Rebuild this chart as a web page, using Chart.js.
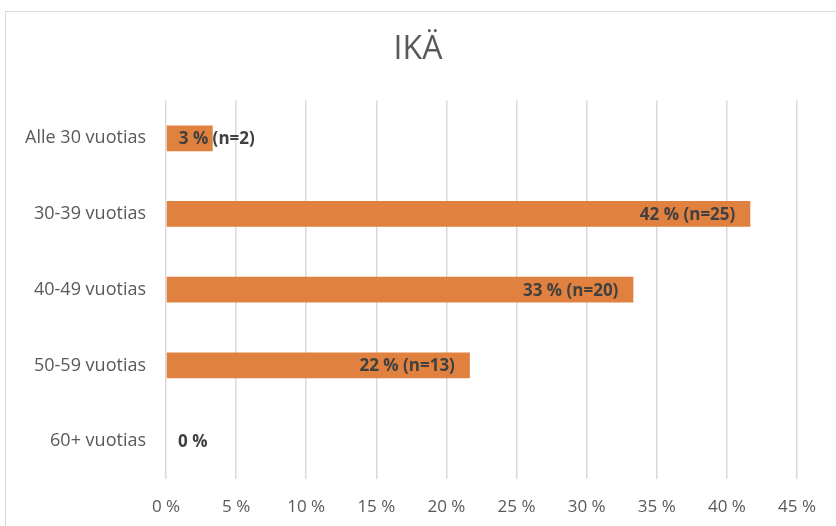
<!DOCTYPE html>
<html>
<head>
<meta charset="utf-8">
<script src="https://cdn.jsdelivr.net/npm/chart.js@4/dist/chart.umd.min.js"></script>
<style>
  html, body { margin: 0; padding: 0; background: #fff; }
  .wrap { position: relative; width: 836px; height: 526px; overflow: hidden; }
  .frame { position: absolute; left: 5px; top: 11px; width: 900px; height: 600px; border: 1px solid #d9d9d9; box-sizing: border-box; }
  canvas { position: absolute; left: 0; top: 0; }
</style>
</head>
<body>
<div class="wrap">
  <div class="frame"></div>
  <canvas id="myChart" width="836" height="526"></canvas>
</div>
<script>
const categories = ['Alle 30 vuotias', '30-39 vuotias', '40-49 vuotias', '50-59 vuotias', '60+ vuotias'];
const percents = [3.33, 41.67, 33.33, 21.67, 0];
const counts = [2, 25, 20, 13, 0];
const xTicks = [0, 5, 10, 15, 20, 25, 30, 35, 40, 45];

const textColor = '#595959';
const barColor = '#E0813F';

// labels inside bar end, or after bar start when they don't fit
const barLabels = {
  id: 'barLabels',
  afterDatasetsDraw(chart) {
    const ctx = chart.ctx;
    const meta = chart.getDatasetMeta(0);
    ctx.save();
    ctx.font = 'bold 17px "Open Sans"';
    ctx.fillStyle = '#404040';
    ctx.textBaseline = 'middle';
    meta.data.forEach((bar, i) => {
      let txt = Math.round(percents[i]) + ' %';
      if (counts[i] > 0) txt += ' (n=' + counts[i] + ')';
      const w = ctx.measureText(txt).width;
      const len = bar.x - bar.base;
      if (w + 20 < len) {
        ctx.textAlign = 'right';
        ctx.fillText(txt, bar.x - 15, bar.y + 1);
      } else {
        ctx.textAlign = 'left';
        ctx.fillText(txt, bar.base + 12, bar.y + 1);
      }
    });
    ctx.restore();
  }
};

const ctx = document.getElementById('myChart').getContext('2d');
new Chart(ctx, {
  type: 'bar',
  data: {
    labels: categories,
    datasets: [{
      data: percents,
      backgroundColor: barColor,
      borderWidth: 0,
      barPercentage: 0.34,
      categoryPercentage: 1
    }]
  },
  options: {
    indexAxis: 'y',
    responsive: false,
    animation: false,
    layout: { padding: 0 },
    plugins: {
      legend: { display: false },
      tooltip: { enabled: false },
      title: {
        display: true,
        text: 'IKÄ',
        color: textColor,
        font: { family: 'Open Sans', size: 32, weight: 'normal', lineHeight: 1.2 },
        padding: { top: 31, bottom: 31 }
      }
    },
    scales: {
      x: {
        min: 0,
        max: 45,
        afterBuildTicks(scale) { scale.ticks = xTicks.map(v => ({ value: v })); },
        afterFit(scale) { scale.height = 47; },
        grid: { color: '#d9d9d9', lineWidth: 1.5, drawTicks: false },
        border: { display: false },
        ticks: {
          color: textColor,
          font: { family: 'Open Sans', size: 17 },
          padding: 18,
          callback: v => v + ' %'
        }
      },
      y: {
        afterFit(scale) { scale.width = 166; },
        grid: { display: false, drawTicks: false },
        border: { display: false },
        ticks: {
          color: textColor,
          font: { family: 'Open Sans', size: 18 },
          padding: 20
        }
      },
      yRight: {
        position: 'right',
        afterFit(scale) { scale.width = 39; },
        grid: { display: false, drawTicks: false },
        border: { display: false },
        ticks: { display: false }
      }
    }
  },
  plugins: [barLabels]
});
</script>
</body>
</html>
